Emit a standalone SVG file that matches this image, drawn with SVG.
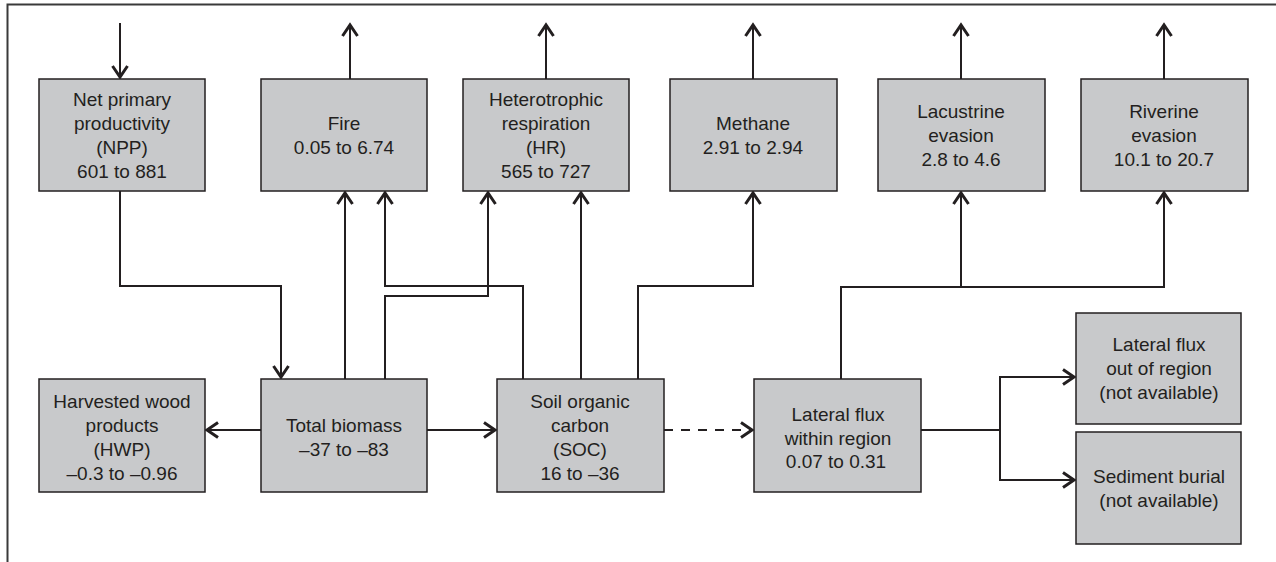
<svg xmlns="http://www.w3.org/2000/svg" width="1276" height="562" viewBox="0 0 1276 562">
<style>
  .box rect { fill: #c8c9cb; stroke: #231f20; stroke-width: 1.5; }
  .box text { font-family: "Liberation Sans", Arial, sans-serif; font-size: 19px; fill: #231f20; text-anchor: middle; }
  .conn path { fill: none; stroke: #231f20; stroke-width: 2; }
  .conn .arr { marker-end: url(#ah); }
  .conn .dash { stroke-dasharray: 9 8; }
  .frame { fill: none; stroke: #3a3a3a; stroke-width: 2; }
</style>
<defs>
  <marker id="ah" markerUnits="userSpaceOnUse" viewBox="-14 -10 16 20" refX="0" refY="0" markerWidth="16" markerHeight="20" orient="auto" overflow="visible">
    <path d="M-11,-7.5 L0,0 L-11,7.5" fill="none" stroke="#231f20" stroke-width="3" stroke-linejoin="miter"/>
  </marker>
</defs>
<rect x="0" y="0" width="1276" height="562" fill="#ffffff"/>
<path class="frame" d="M7.5,562 V4.5 H1276"/>

<g class="conn" id="connectors">
  <path class="arr" d="M120,23 V77"/>
  <path class="arr" d="M120,191 V286 H281 V377"/>
  <path class="arr" d="M350,79 V25"/>
  <path class="arr" d="M546,79 V25"/>
  <path class="arr" d="M753,79 V25"/>
  <path class="arr" d="M961,79 V25"/>
  <path class="arr" d="M1164,79 V25"/>
  <path class="arr" d="M345,379 V193"/>
  <path class="arr" d="M385,379 V296 H488 V193"/>
  <path class="arr" d="M523,379 V286 H385 V193"/>
  <path class="arr" d="M581,379 V193"/>
  <path class="arr" d="M638,379 V286 H753 V193"/>
  <path class="arr" d="M841,379 V287 H1164 V193"/>
  <path class="arr" d="M961,287 V193"/>
  <path class="arr" d="M261,430 H207"/>
  <path class="arr" d="M427,430 H495"/>
  <path class="arr dash" d="M664,430 H752"/>
  <path d="M921,430 H1000"/>
  <path class="arr" d="M1000,430 V377 H1074"/>
  <path class="arr" d="M1000,430 V480 H1074"/>
</g>

<g class="box" id="npp">
  <rect x="39" y="79" width="166" height="112"/>
  <text x="122" y="106">Net primary</text>
  <text x="122" y="130">productivity</text>
  <text x="122" y="154">(NPP)</text>
  <text x="122" y="177.5">601 to 881</text>
</g>
<g class="box" id="fire">
  <rect x="261" y="79" width="166" height="112"/>
  <text x="344" y="130">Fire</text>
  <text x="344" y="154">0.05 to 6.74</text>
</g>
<g class="box" id="hr">
  <rect x="463" y="79" width="166" height="112"/>
  <text x="546" y="106">Heterotrophic</text>
  <text x="546" y="130">respiration</text>
  <text x="546" y="154">(HR)</text>
  <text x="546" y="177.5">565 to 727</text>
</g>
<g class="box" id="methane">
  <rect x="670" y="79" width="167" height="112"/>
  <text x="753" y="130">Methane</text>
  <text x="753" y="154">2.91 to 2.94</text>
</g>
<g class="box" id="lacustrine">
  <rect x="878" y="79" width="167" height="112"/>
  <text x="961" y="118">Lacustrine</text>
  <text x="961" y="142">evasion</text>
  <text x="961" y="166">2.8 to 4.6</text>
</g>
<g class="box" id="riverine">
  <rect x="1081" y="79" width="167" height="112"/>
  <text x="1164" y="118">Riverine</text>
  <text x="1164" y="142">evasion</text>
  <text x="1164" y="166">10.1 to 20.7</text>
</g>
<g class="box" id="hwp">
  <rect x="39" y="379" width="166" height="113"/>
  <text x="122" y="408">Harvested wood</text>
  <text x="122" y="432">products</text>
  <text x="122" y="456">(HWP)</text>
  <text x="122" y="480">–0.3 to –0.96</text>
</g>
<g class="box" id="biomass">
  <rect x="261" y="379" width="166" height="113"/>
  <text x="344" y="432">Total biomass</text>
  <text x="344" y="456">–37 to –83</text>
</g>
<g class="box" id="soc">
  <rect x="497" y="379" width="167" height="113"/>
  <text x="580" y="408">Soil organic</text>
  <text x="580" y="432">carbon</text>
  <text x="580" y="456">(SOC)</text>
  <text x="580" y="480">16 to –36</text>
</g>
<g class="box" id="lateral-within">
  <rect x="754" y="379" width="167" height="113"/>
  <text x="838" y="421">Lateral flux</text>
  <text x="838" y="445">within region</text>
  <text x="836" y="468">0.07 to 0.31</text>
</g>
<g class="box" id="lateral-out">
  <rect x="1076" y="313" width="165" height="111"/>
  <text x="1159" y="351">Lateral flux</text>
  <text x="1159" y="375">out of region</text>
  <text x="1159" y="398.5">(not available)</text>
</g>
<g class="box" id="sediment">
  <rect x="1076" y="432" width="165" height="112"/>
  <text x="1159" y="483">Sediment burial</text>
  <text x="1159" y="507">(not available)</text>
</g>
</svg>
